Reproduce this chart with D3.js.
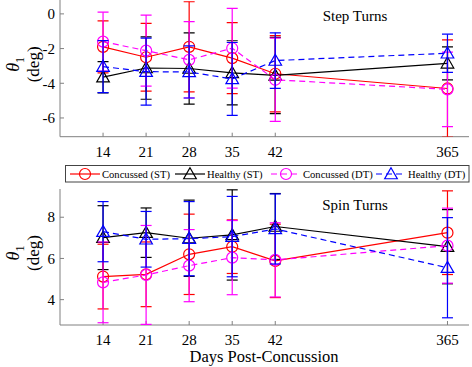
<!DOCTYPE html>
<html>
<head>
<meta charset="utf-8">
<script src="https://cdn.jsdelivr.net/npm/d3@7"></script>
<style>
  body { margin: 0; background: #fff; }
  svg text { font-family: "Liberation Serif", "Times New Roman", serif; }
</style>
</head>
<body>
<svg class="main" width="472" height="367"></svg>
<script>
// дни после сотрясения (ось x с разрывом между 42 и 365)
const days = [14, 21, 28, 35, 42, 365];

// Step Turns: средние и стандартные отклонения
const stepConcST = [-1.9, -2.5, -1.9, -2.55, -3.45, -4.3];
const stepConcSTsd = [1.5, 1.95, 2.6, 2.05, 2.2, 2.8];
const stepHealthyST = [-3.65, -3.12, -3.15, -3.4, -3.55, -2.85];
const stepHealthySTsd = [0.9, 1.8, 2.05, 1.85, 2.2, 0.95];
const stepConcDT = [-1.6, -2.12, -2.65, -1.98, -3.8, -4.35];
const stepConcDTsd = [1.7, 2.05, 2.2, 2.3, 2.4, 2.15];
const stepHealthyDT = [-3.04, -3.33, -3.35, -3.75, -2.69, -2.27];
const stepHealthyDTsd = [1.5, 1.93, 1.5, 2.1, 1.6, 1.1];

// Spin Turns
const spinConcST = [5.12, 5.23, 6.2, 6.57, 5.88, 7.25];
const spinConcSTsd = [1.57, 1.57, 1.95, 1.3, 1.78, 2.03];
const spinHealthyST = [7.01, 7.25, 6.98, 7.14, 7.55, 6.57];
const spinHealthySTsd = [1.55, 1.2, 1.85, 2.19, 1.6, 1.8];
const spinConcDT = [4.84, 5.2, 5.65, 6.04, 5.93, 6.62];
const spinConcDTsd = [1.96, 2.4, 1.75, 1.8, 1.8, 1.82];
const spinHealthyDT = [7.3, 6.93, 6.96, 7.06, 7.43, 5.55];
const spinHealthyDTsd = [1.46, 1.35, 1.8, 1.95, 1.7, 2.43];

const seriesNames = ["Concussed (ST)", "Healthy (ST)", "Concussed (DT)", "Healthy (DT)"];
const stepTicks = [-6, -4, -2, 0];
const spinTicks = [4, 6, 8];

const svg = d3.select("svg.main");
const left = 60, right = 469;
const u = (right - left) / 9.5;

// кусочно-линейная шкала: 7..42 равномерно, потом разрыв до 365
const x = d3.scaleLinear()
    .domain([7, 42, 365, 375.5])
    .range([left, left + 5 * u, left + 9 * u, right]);

const styles = [
    {color: "#ff0000", dash: null, marker: "circle"},
    {color: "#000000", dash: null, marker: "triangle"},
    {color: "#ff00ff", dash: "6,4", marker: "circle"},
    {color: "#0000ff", dash: "6,4", marker: "triangle"}
];

function drawMarker(g, type, cx, cy, color) {
    if (type == "circle") {
        g.append("circle").attr("cx", cx).attr("cy", cy).attr("r", 5.5)
            .attr("fill", "none").attr("stroke", color).attr("stroke-width", 1.2);
    } else {
        const s = 6.3;
        g.append("path")
            .attr("d", `M${cx},${cy - s}L${cx + s},${cy + s * 0.75}L${cx - s},${cy + s * 0.75}Z`)
            .attr("fill", "none").attr("stroke", color).attr("stroke-width", 1.2);
    }
}

function drawPanel(id, top, bottom, domain, ticks, title, series, errs) {
    const y = d3.scaleLinear().domain(domain).range([bottom, top]);
    const g = svg.append("g");

    svg.append("clipPath").attr("id", id).append("rect")
        .attr("x", left).attr("y", top).attr("width", right - left).attr("height", bottom - top);

    // оси
    g.append("line").attr("x1", left).attr("x2", left).attr("y1", top).attr("y2", bottom)
        .attr("stroke", "#808080");
    g.append("line").attr("x1", left).attr("x2", right).attr("y1", bottom).attr("y2", bottom)
        .attr("stroke", "#808080");

    ticks.forEach(t => {
        g.append("line").attr("x1", left).attr("x2", left + 4).attr("y1", y(t)).attr("y2", y(t))
            .attr("stroke", "#808080");
        g.append("text").attr("x", 55).attr("y", y(t)).attr("dy", "0.35em")
            .attr("text-anchor", "end").attr("font-size", 15).text(t);
    });
    days.forEach(d => {
        g.append("line").attr("x1", x(d)).attr("x2", x(d)).attr("y1", bottom).attr("y2", bottom - 4)
            .attr("stroke", "#808080");
        g.append("text").attr("x", x(d)).attr("y", bottom + 20)
            .attr("text-anchor", "middle").attr("font-size", 15).text(d);
    });

    g.append("text").attr("x", 355).attr("y", top + 21).attr("text-anchor", "middle")
        .attr("font-size", 15).text(title);

    // подпись оси y: θ1 и (deg), повернуто
    const cy = (top + bottom) / 2 - 4;
    const lab = g.append("g").attr("transform", `translate(0,${cy}) rotate(-90)`);
    const th = lab.append("text").attr("x", 0).attr("y", 19).attr("text-anchor", "middle")
        .attr("font-size", 18);
    th.append("tspan").attr("font-style", "italic").text("θ");
    th.append("tspan").attr("font-size", 12).attr("dy", 5).text("1");
    lab.append("text").attr("x", 0).attr("y", 39).attr("text-anchor", "middle")
        .attr("font-size", 17).text("(deg)");

    const plot = svg.append("g").attr("clip-path", `url(#${id})`);
    const line = d3.line().x((d, i) => x(days[i])).y(d => y(d));

    series.forEach((s, k) => {
        const st = styles[k];
        const sg = plot.append("g");
        sg.append("path").attr("d", line(s)).attr("fill", "none")
            .attr("stroke", st.color).attr("stroke-width", 1.2)
            .attr("stroke-dasharray", st.dash);
        s.forEach((v, i) => {
            const px = x(days[i]);
            const hi = y(v + errs[k][i]), lo = y(v - errs[k][i]);
            sg.append("line").attr("x1", px).attr("x2", px).attr("y1", hi).attr("y2", lo)
                .attr("stroke", st.color).attr("stroke-width", 1.2);
            [hi, lo].forEach(yy => {
                sg.append("line").attr("x1", px - 5.5).attr("x2", px + 5.5).attr("y1", yy).attr("y2", yy)
                    .attr("stroke", st.color).attr("stroke-width", 1.2);
            });
            drawMarker(sg, st.marker, px, y(v), st.color);
        });
    });
}

drawPanel("clipStep", 0, 136.7, [-7.08, 0.8], stepTicks, "Step Turns",
    [stepConcST, stepHealthyST, stepConcDT, stepHealthyDT],
    [stepConcSTsd, stepHealthySTsd, stepConcDTsd, stepHealthyDTsd]);

drawPanel("clipSpin", 189, 325, [2.77, 9.37], spinTicks, "Spin Turns",
    [spinConcST, spinHealthyST, spinConcDT, spinHealthyDT],
    [spinConcSTsd, spinHealthySTsd, spinConcDTsd, spinHealthyDTsd]);

svg.append("text").attr("x", 264).attr("y", 362).attr("text-anchor", "middle")
    .attr("font-size", 16.5).text("Days Post-Concussion");

// легенда
const legend = svg.append("g");
legend.append("rect").attr("x", 65.5).attr("y", 165.5).attr("width", 403.5).attr("height", 16.5)
    .attr("fill", "#fff").attr("stroke", "#444").attr("stroke-width", 1);
const legX = [85, 190, 286, 391];
seriesNames.forEach((name, k) => {
    const st = styles[k];
    const cx = legX[k], cy = 174;
    legend.append("line").attr("x1", cx - 15).attr("x2", cx + 15).attr("y1", cy).attr("y2", cy)
        .attr("stroke", st.color).attr("stroke-width", 1.2).attr("stroke-dasharray", st.dash);
    drawMarker(legend, st.marker, cx, cy, st.color);
    legend.append("text").attr("x", cx + 17).attr("y", cy).attr("dy", "0.35em")
        .attr("font-size", 10.6).text(name);
});
</script>
</body>
</html>
